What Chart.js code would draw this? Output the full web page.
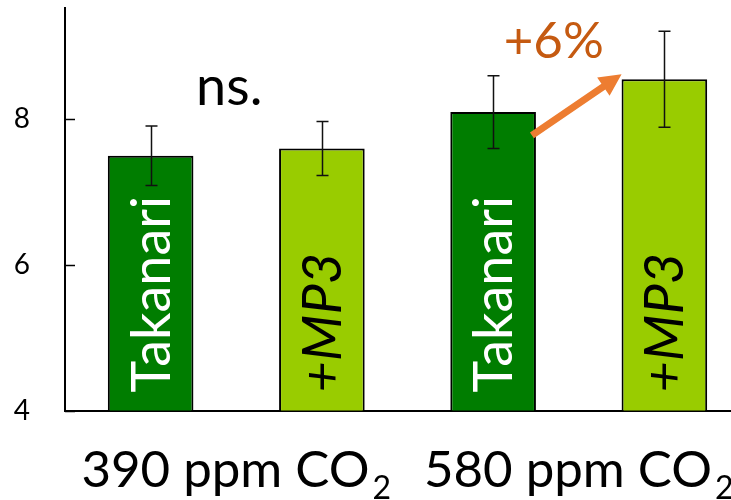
<!DOCTYPE html>
<html>
<head>
<meta charset="utf-8">
<script src="https://cdn.jsdelivr.net/npm/chart.js@4"></script>
<style>
  html, body { margin: 0; padding: 0; background: #fff; overflow: hidden; }
  #wrap { width: 731px; height: 500px; overflow: hidden; }
  canvas { display: block; }
</style>
</head>
<body>
<div id="wrap"><canvas id="chart" width="750" height="500"></canvas></div>
<script>
// CO2 levels (groups) and the two lines compared in each
const groups = ['390 ppm CO₂', '580 ppm CO₂'];
const seriesNames = ['Takanari', '+MP3'];

// Mean values and error (±) per group
const takanari = [7.5, 8.1];
const takanariErr = [0.41, 0.5];
const mp3 = [7.6, 8.55];
const mp3Err = [0.37, 0.66];

// Y axis
const yTicks = [4, 6, 8];
const yMin = 4;
const yMax = 9.53;

// Significance notes per group
const notes = ['ns.', '+6%'];

const FONT = 'Lato, "Noto Sans", "DejaVu Sans", sans-serif';
const DARK_GREEN = '#007d00';
const LIGHT_GREEN = '#99cc00';
const ORANGE = '#ed7d31';
const ORANGE_TEXT = '#c55a11';
const SUBSCRIPTS = { '₀': '0', '₁': '1', '₂': '2', '₃': '3', '₄': '4' };

// Short tick marks pointing into the plot area
const innerTicks = {
  id: 'innerTicks',
  afterDraw(chart) {
    const { ctx, scales: { y }, chartArea } = chart;
    ctx.save();
    ctx.strokeStyle = '#000';
    ctx.lineWidth = 1.5;
    yTicks.forEach(v => {
      const py = Math.round(y.getPixelForValue(v)) + 0.5;
      ctx.beginPath();
      ctx.moveTo(chartArea.left, py);
      ctx.lineTo(chartArea.left + 10, py);
      ctx.stroke();
    });
    ctx.restore();
  }
};

// Category labels under the x axis, with a proper subscript for trailing ₂
const groupLabels = {
  id: 'groupLabels',
  afterDraw(chart) {
    const { ctx, scales: { x }, chartArea } = chart;
    ctx.save();
    ctx.fillStyle = '#000';
    ctx.textBaseline = 'alphabetic';
    ctx.textAlign = 'left';
    const baseline = chartArea.bottom + 76.5;
    x.ticks.forEach((t, i) => {
      const label = x.getLabelForValue(t.value);
      let main = label, sub = '';
      const last = label.slice(-1);
      if (SUBSCRIPTS[last]) { main = label.slice(0, -1); sub = SUBSCRIPTS[last]; }
      ctx.font = '51px ' + FONT;
      const wMain = ctx.measureText(main).width;
      ctx.font = '32px ' + FONT;
      const wSub = sub ? ctx.measureText(sub).width + 3 : 0;
      const cx = x.getPixelForValue(t.value);
      const left = cx - (wMain + wSub) / 2;
      ctx.font = '51px ' + FONT;
      ctx.fillText(main, left, baseline);
      if (sub) {
        ctx.font = '32px ' + FONT;
        ctx.fillText(sub, left + wMain + 3, baseline + 12);
      }
    });
    ctx.restore();
  }
};

// Error bars drawn from each dataset's err array
const errorBars = {
  id: 'errorBars',
  afterDatasetsDraw(chart) {
    const { ctx, scales: { y } } = chart;
    ctx.save();
    ctx.strokeStyle = '#111';
    ctx.lineWidth = 1.5;
    chart.data.datasets.forEach((ds, i) => {
      const meta = chart.getDatasetMeta(i);
      meta.data.forEach((bar, j) => {
        const v = ds.data[j], e = ds.err[j];
        const top = y.getPixelForValue(v + e);
        const bot = y.getPixelForValue(v - e);
        const x = Math.round(bar.x) + 0.5;
        ctx.beginPath();
        ctx.moveTo(x, top); ctx.lineTo(x, bot);
        ctx.moveTo(x - 6, top); ctx.lineTo(x + 6, top);
        ctx.moveTo(x - 6, bot); ctx.lineTo(x + 6, bot);
        ctx.stroke();
      });
    });
    ctx.restore();
  }
};

// Rotated series names inside the bars
const barLabels = {
  id: 'barLabels',
  afterDatasetsDraw(chart) {
    const { ctx, scales: { y } } = chart;
    const base = y.getPixelForValue(yMin);
    chart.data.datasets.forEach((ds, i) => {
      const meta = chart.getDatasetMeta(i);
      meta.data.forEach(bar => {
        ctx.save();
        ctx.translate(bar.x + 19, base - 18);
        ctx.rotate(-Math.PI / 2);
        ctx.font = (ds.labelItalic ? 'italic ' : '') + '54px ' + FONT;
        ctx.fillStyle = ds.labelColor;
        ctx.textAlign = 'left';
        ctx.textBaseline = 'alphabetic';
        ctx.fillText(ds.label, 0, 0);
        ctx.restore();
      });
    });
  }
};

// Significance notes and the arrow between the elevated-CO2 bars
const notesPlugin = {
  id: 'notes',
  afterDatasetsDraw(chart) {
    const { ctx, scales: { x, y } } = chart;
    ctx.save();
    ctx.textAlign = 'center';
    ctx.textBaseline = 'alphabetic';

    ctx.font = '54px ' + FONT;
    ctx.fillStyle = '#000';
    ctx.fillText(notes[0], x.getPixelForValue(0) - 7, y.getPixelForValue(8.2));

    ctx.font = '51px ' + FONT;
    ctx.fillStyle = ORANGE_TEXT;
    ctx.fillText(notes[1], x.getPixelForValue(1) - 25, y.getPixelForValue(8.84));

    const a = chart.getDatasetMeta(0).data[1];
    const b = chart.getDatasetMeta(1).data[1];
    const x0 = a.x + a.width / 2 - 4, y0 = y.getPixelForValue(7.78);
    const x1 = b.x - b.width / 2, y1 = y.getPixelForValue(8.62);
    const dx = x1 - x0, dy = y1 - y0, len = Math.hypot(dx, dy);
    const ux = dx / len, uy = dy / len, nx = -uy, ny = ux;
    const headLen = 22, headHalf = 11, shaft = 3.5;
    const bx = x1 - ux * headLen, by = y1 - uy * headLen;
    ctx.fillStyle = ORANGE;
    ctx.beginPath();
    ctx.moveTo(x0 + nx * shaft, y0 + ny * shaft);
    ctx.lineTo(bx + nx * shaft, by + ny * shaft);
    ctx.lineTo(bx + nx * headHalf, by + ny * headHalf);
    ctx.lineTo(x1, y1);
    ctx.lineTo(bx - nx * headHalf, by - ny * headHalf);
    ctx.lineTo(bx - nx * shaft, by - ny * shaft);
    ctx.lineTo(x0 - nx * shaft, y0 - ny * shaft);
    ctx.closePath();
    ctx.fill();
    ctx.restore();
  }
};

new Chart(document.getElementById('chart'), {
  type: 'bar',
  data: {
    labels: groups,
    datasets: [
      {
        label: seriesNames[0],
        data: takanari,
        err: takanariErr,
        backgroundColor: DARK_GREEN,
        borderColor: '#000',
        borderWidth: 2,
        labelColor: '#fff',
        labelItalic: false
      },
      {
        label: seriesNames[1],
        data: mp3,
        err: mp3Err,
        backgroundColor: LIGHT_GREEN,
        borderColor: '#000',
        borderWidth: 2,
        labelColor: '#000',
        labelItalic: true
      }
    ]
  },
  options: {
    responsive: false,
    animation: false,
    devicePixelRatio: 1,
    layout: { padding: { top: 8, left: 0, right: 0, bottom: 0 } },
    datasets: { bar: { categoryPercentage: 1.0, barPercentage: 0.5 } },
    plugins: {
      legend: { display: false },
      tooltip: { enabled: false }
    },
    scales: {
      x: {
        grid: { display: false, drawTicks: false },
        border: { display: true, color: '#000', width: 2 },
        ticks: { display: false },
        afterFit(scale) {
          scale.height = 89.5;
          scale.paddingLeft = 0; scale.paddingRight = 0;
          scale.paddingTop = 0; scale.paddingBottom = 0;
        }
      },
      y: {
        min: yMin,
        max: yMax,
        grid: { display: false, drawTicks: false },
        border: { display: true, color: '#000', width: 2 },
        ticks: {
          color: '#000',
          font: { family: FONT, size: 28 },
          padding: 35
        },
        afterBuildTicks(scale) { scale.ticks = yTicks.map(v => ({ value: v })); },
        afterFit(scale) {
          scale.width = 65;
          scale.paddingLeft = 0; scale.paddingRight = 0;
          scale.paddingTop = 0; scale.paddingBottom = 0;
        }
      }
    }
  },
  plugins: [innerTicks, groupLabels, errorBars, barLabels, notesPlugin]
});
</script>
</body>
</html>
